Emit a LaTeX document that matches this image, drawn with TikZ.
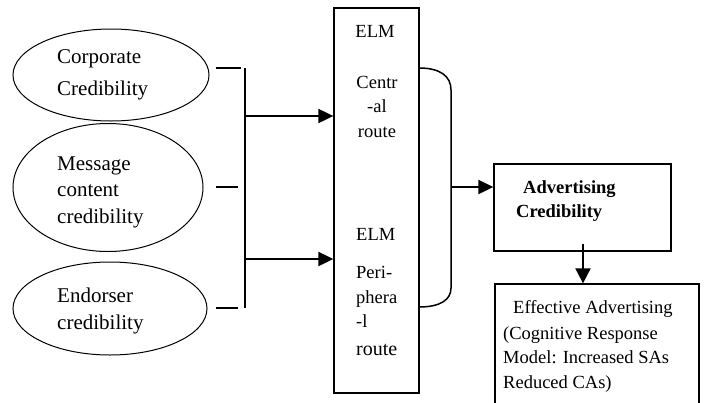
\documentclass[tikz,border=0pt]{standalone}
\usepackage{fontspec}
\setmainfont{Liberation Serif}
\usetikzlibrary{shapes.geometric,arrows.meta}
\begin{document}
\begin{tikzpicture}[x=1pt,y=-1pt,
  ell/.style={draw, ellipse, line width=1pt, inner sep=0pt},
  box/.style={draw, rectangle, line width=1.3pt, inner sep=0pt},
  conn/.style={line width=2pt},
  arr/.style={line width=2pt, -{Triangle[length=15pt,width=14pt]}},
  etxt/.style={anchor=base west, inner sep=0pt, align=left},
  btxt/.style={inner sep=0pt, font=\fontsize{18.5}{24.5}\selectfont}
]
\useasboundingbox (0,0) rectangle (704,402);
\clip (0,0) rectangle (704,402);
\fill[white] (0,0) rectangle (704,402);
% ellipses
\node[ell, minimum width=196pt, minimum height=92pt] (e1) at (111,75) {};
\node[ell, minimum width=190pt, minimum height=128pt] (e2) at (108,187.5) {};
\node[ell, minimum width=194pt, minimum height=93pt] (e3) at (110,308.5) {};
% multi-line nodes: 'base' is the baseline of the last line
\node[etxt, font=\fontsize{21}{32}\selectfont] (t1) at (57,95) {Corporate\\Credibility};
\node[etxt, font=\fontsize{21}{26.5}\selectfont] (t2) at (57,223) {Message\\content\\credibility};
\node[etxt, font=\fontsize{21}{27}\selectfont] (t3) at (57,329) {Endorser\\credibility};
% bracket
\coordinate (b1) at (245,68);
\coordinate (b2) at (245,187);
\coordinate (b3) at (245,308);
\coordinate (bc) at (245,116);
\coordinate (bp) at (245,259);
\draw[conn] ([xshift=6pt]e1.east |- b1) -- ([xshift=-4pt]b1);
\draw[conn] ([xshift=12pt]e2.east |- b2) -- ([xshift=-7pt]b2);
\draw[conn] ([xshift=8pt]e3.east |- b3) -- ([xshift=-7pt]b3);
\draw[conn] (b1) -- (b3);
% ELM box
\node[box, minimum width=85pt, minimum height=385pt] (elm) at (376.5,200.5) {};
\draw[arr] (bc) -- (bc -| elm.west);
\draw[arr] (bp) -- (bp -| elm.west);
\node[btxt, anchor=base] (elm1) at (375,37) {ELM};
\node[btxt, anchor=base, align=center] (cen) at (377,137) {Centr\\-al\\route};
\node[btxt, anchor=base west] (elm2) at (356,240) {ELM};
\node[btxt, anchor=base west, align=left] (per) at (356,355) {Peri-\\phera\\-l\\[3pt]{\fontsize{20}{24}\selectfont route}};
% right bracket
\coordinate (r1) at (419,68);
\coordinate (r2) at (419,307);
\coordinate (rm) at (451,187);
\draw[conn, line width=1.5pt] (r1) .. controls (440,68) and (451,76) .. (451,90) -- (451,288) .. controls (451,300) and (440,307) .. (r2);
% advertising box
\node[box, minimum width=177pt, minimum height=87pt] (adv) at (582.5,207.5) {};
\draw[arr] (rm) -- (rm -| adv.west);
\node[btxt, anchor=base west, font=\fontsize{18.5}{24}\selectfont\bfseries] (adv1) at (523,193) {Advertising};
\node[btxt, anchor=base west, font=\fontsize{18.5}{24}\selectfont\bfseries] (adv2) at (516,217) {Credibility};
% effective box
\node[box, minimum width=204pt, minimum height=136pt] (eff) at (597,352) {};
\draw[arr, -{Triangle[length=15pt,width=15pt]}] ([yshift=8pt]adv.south -| 583,0) -- (583,0 |- eff.north);
\node[btxt, anchor=base west] (eff1) at (513,313) {Effective Advertising};
\node[btxt, anchor=base west, align=left] (eff2) at (503,388) {(Cognitive Response\\Model: Increased SAs\\Reduced CAs)};
\end{tikzpicture}
\end{document}
